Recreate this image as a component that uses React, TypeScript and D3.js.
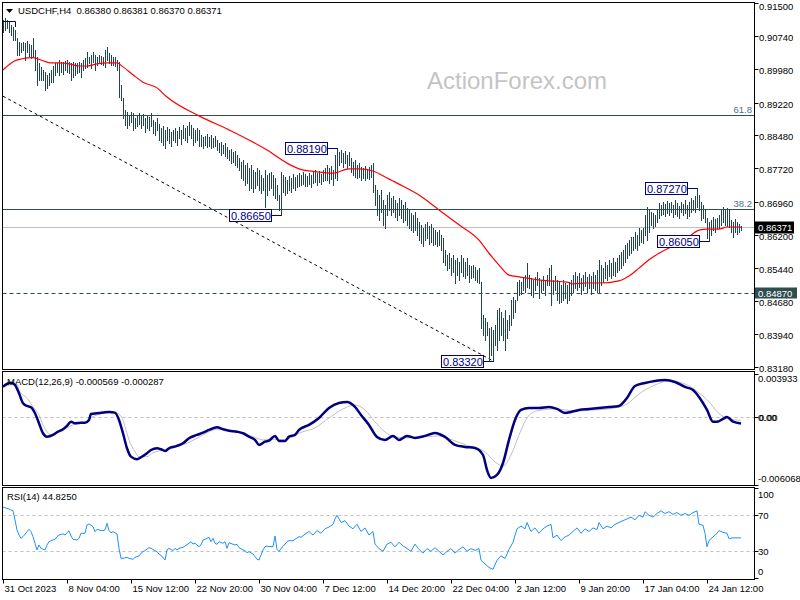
import React from "react";
import * as d3 from "d3";

// ---------- DATA ----------
const HIGH = [
  .9111,.9116,.9111,.9107,.9100,.9095,.9088,.9070,.9061,.9059,
  .9061,.9059,.9063,.9056,.9054,.9070,.9043,.9027,.9013,.9004,
  .8997,.8992,.8986,.8990,.8997,.9006,.9013,.9013,.9020,.9015,
  .9015,.9017,.9020,.9015,.9013,.9015,.9013,.9013,.9015,.9013,
  .9020,.9024,.9038,.9027,.9031,.9038,.9031,.9027,.9031,.9029,
  .9027,.9043,.9049,.9036,.9031,.9027,.9027,.9020,.9015,.8963,
  .8933,.8906,.8901,.8894,.8901,.8899,.8887,.8894,.8899,.8892,
  .8897,.8887,.8894,.8890,.8899,.8883,.8878,.8887,.8874,.8865,
  .8869,.8860,.8867,.8862,.8855,.8860,.8865,.8858,.8867,.8860,
  .8871,.8865,.8869,.8878,.8871,.8865,.8860,.8865,.8860,.8848,
  .8843,.8846,.8851,.8843,.8848,.8841,.8846,.8837,.8830,.8832,
  .8825,.8830,.8821,.8814,.8816,.8809,.8812,.8803,.8796,.8787,
  .8791,.8780,.8784,.8773,.8780,.8768,.8764,.8773,.8768,.8757,
  .8750,.8768,.8757,.8762,.8764,.8757,.8750,.8734,.8711,.8764,
  .8757,.8753,.8746,.8755,.8750,.8759,.8753,.8757,.8762,.8757,
  .8764,.8759,.8755,.8762,.8757,.8764,.8768,.8762,.8766,.8759,
  .8768,.8773,.8780,.8773,.8778,.8768,.8803,.8819,.8809,.8814,
  .8807,.8812,.8803,.8809,.8796,.8787,.8791,.8780,.8784,.8775,
  .8773,.8778,.8771,.8775,.8780,.8784,.8734,.8723,.8711,.8723,
  .8700,.8688,.8711,.8718,.8704,.8709,.8700,.8693,.8704,.8700,
  .8688,.8695,.8681,.8677,.8670,.8666,.8672,.8659,.8650,.8643,
  .8636,.8645,.8650,.8641,.8645,.8636,.8631,.8627,.8631,.8620,
  .8613,.8585,.8574,.8578,.8567,.8574,.8563,.8567,.8558,.8574,
  .8567,.8558,.8567,.8551,.8549,.8551,.8547,.8540,.8544,.8512,
  .8437,.8430,.8421,.8407,.8410,.8403,.8414,.8448,.8453,.8444,
  .8430,.8448,.8426,.8437,.8471,.8478,.8471,.8512,.8517,.8512,
  .8521,.8528,.8556,.8528,.8521,.8517,.8524,.8535,.8521,.8517,
  .8526,.8517,.8528,.8544,.8551,.8517,.8526,.8517,.8512,.8505,
  .8517,.8510,.8505,.8512,.8517,.8528,.8535,.8526,.8533,.8521,
  .8528,.8535,.8524,.8531,.8526,.8535,.8528,.8540,.8563,.8551,
  .8544,.8558,.8551,.8563,.8556,.8567,.8558,.8567,.8574,.8581,
  .8585,.8597,.8601,.8608,.8615,.8615,.8627,.8620,.8636,.8631,
  .8636,.8666,.8684,.8677,.8672,.8670,.8666,.8677,.8693,.8688,
  .8695,.8690,.8697,.8693,.8695,.8688,.8700,.8693,.8686,.8695,
  .8690,.8700,.8688,.8695,.8704,.8700,.8709,.8727,.8711,.8695,
  .8688,.8677,.8659,.8650,.8654,.8661,.8656,.8659,.8666,.8677,
  .8684,.8677,.8681,.8677,.8654,.8650,.8656,.8650,.8645,.8641
];
const LOW = [
  .9084,.9088,.9093,.9084,.9077,.9066,.9066,.9031,.9031,.9038,
  .9043,.9020,.9038,.9029,.9024,.9027,.8997,.8963,.8974,.8974,
  .8974,.8951,.8956,.8963,.8969,.8969,.8986,.8992,.8986,.8992,
  .8988,.8997,.8992,.8990,.8974,.8981,.8986,.8990,.8992,.8981,
  .8997,.9002,.9004,.9013,.9002,.9015,.8997,.9008,.9015,.9011,
  .9008,.9004,.9020,.9013,.9008,.9008,.9006,.8997,.8935,.8928,
  .8888,.8871,.8865,.8871,.8878,.8860,.8865,.8869,.8874,.8865,
  .8871,.8855,.8865,.8860,.8869,.8853,.8848,.8860,.8837,.8832,
  .8825,.8818,.8837,.8830,.8823,.8837,.8832,.8825,.8842,.8828,
  .8842,.8837,.8832,.8848,.8842,.8825,.8832,.8837,.8823,.8823,
  .8818,.8825,.8821,.8823,.8818,.8821,.8823,.8814,.8809,.8803,
  .8807,.8800,.8796,.8791,.8784,.8787,.8780,.8775,.8768,.8750,
  .8746,.8734,.8739,.8723,.8727,.8718,.8727,.8734,.8723,.8716,
  .8723,.8684,.8711,.8723,.8727,.8711,.8704,.8700,.8677,.8665,
  .8718,.8711,.8716,.8723,.8718,.8727,.8723,.8730,.8732,.8734,
  .8737,.8732,.8732,.8737,.8730,.8739,.8741,.8734,.8741,.8737,
  .8743,.8746,.8746,.8739,.8748,.8734,.8750,.8746,.8780,.8787,
  .8775,.8784,.8773,.8780,.8764,.8757,.8753,.8750,.8752,.8746,
  .8750,.8746,.8750,.8748,.8753,.8718,.8688,.8666,.8654,.8672,
  .8643,.8636,.8666,.8677,.8666,.8672,.8661,.8654,.8666,.8659,
  .8650,.8654,.8643,.8636,.8631,.8627,.8631,.8620,.8608,.8602,
  .8595,.8608,.8613,.8599,.8604,.8597,.8599,.8595,.8597,.8585,
  .8558,.8551,.8540,.8544,.8528,.8535,.8510,.8528,.8517,.8535,
  .8526,.8521,.8528,.8512,.8521,.8524,.8517,.8512,.8510,.8407,
  .8391,.8380,.8391,.8334,.8345,.8332,.8368,.8357,.8380,.8391,
  .8380,.8357,.8384,.8403,.8414,.8430,.8444,.8471,.8483,.8485,
  .8494,.8489,.8501,.8499,.8483,.8478,.8494,.8505,.8476,.8489,
  .8494,.8483,.8505,.8505,.8460,.8485,.8494,.8471,.8464,.8467,
  .8471,.8476,.8464,.8471,.8483,.8489,.8499,.8494,.8501,.8485,
  .8494,.8503,.8489,.8499,.8485,.8499,.8494,.8489,.8487,.8505,
  .8512,.8521,.8517,.8526,.8521,.8528,.8526,.8535,.8540,.8544,
  .8551,.8558,.8567,.8574,.8578,.8585,.8590,.8585,.8597,.8604,
  .8601,.8620,.8608,.8627,.8643,.8636,.8641,.8650,.8659,.8666,
  .8668,.8663,.8670,.8666,.8672,.8661,.8668,.8663,.8659,.8672,
  .8666,.8670,.8659,.8663,.8672,.8677,.8672,.8684,.8677,.8654,
  .8659,.8650,.8613,.8605,.8620,.8631,.8627,.8636,.8636,.8643,
  .8650,.8643,.8641,.8638,.8627,.8615,.8627,.8622,.8627,.8631
];

const MA_IDX = [0,6,9,15,20,24,28,33,38,42,47,52,57,60,65,70,77,82,98,113,123,132,142,148,157,165,173,178,185,192,198,208,218,228,238,243,248,253,258,265,273,282,285,292,298,308,313,318,323,328,333,340,348,352,358,362,369];
const MA_VAL = [.8997,.9018,.9022,.9025,.9018,.9013,.9013,.9011,.9006,.9006,.9011,.9013,.9013,.9004,.8986,.8969,.8956,.8935,.8892,.8860,.8837,.8814,.8784,.8771,.8764,.8761,.8771,.8771,.8766,.8750,.8736,.8711,.8677,.8643,.8608,.8578,.8551,.8528,.8524,.8519,.8515,.8512,.8508,.8510,.8510,.8515,.8526,.8544,.8563,.8578,.8590,.8604,.8631,.8633,.8633,.8638,.8638];

const MACD_IDX = [0,2,4,6,8,10,12,14,16,18,20,22,25,27,30,32,34,36,39,41,43,44,47,50,53,56,58,60,62,64,67,69,72,74,77,79,81,83,87,90,93,97,100,103,107,110,113,117,120,123,126,128,131,133,136,138,141,143,146,148,153,158,163,168,172,176,179,183,187,191,195,198,202,206,211,216,221,226,231,236,240,242,244,247,250,253,256,259,263,268,273,277,281,284,288,293,298,303,308,312,316,321,326,331,336,341,345,348,352,355,357,360,362,365,369];
const MACD_VAL = [.00275,.00299,.00311,.00290,.00215,.00125,.00101,.00089,.00035,-.00055,-.00145,-.00176,-.00160,-.00136,-.00109,-.00079,-.00041,-.00055,-.00050,-.00050,-.00025,.00029,.00035,.00041,.00047,.00041,-.00025,-.00145,-.00280,-.00356,-.00379,-.00361,-.00325,-.00296,-.00280,-.00289,-.00305,-.00280,-.00259,-.00235,-.00190,-.00160,-.00140,-.00115,-.00091,-.00109,-.00122,-.00131,-.00145,-.00176,-.00205,-.00250,-.00221,-.00212,-.00169,-.00214,-.00214,-.00176,-.00160,-.00115,-.00070,-.00007,.00083,.00128,.00137,.00092,.00020,-.00070,-.00178,-.00205,-.00169,-.00205,-.00169,-.00187,-.00169,-.00142,-.00178,-.00250,-.00268,-.00278,-.00341,-.00476,-.00548,-.00521,-.00413,-.00205,-.00025,.00065,.00083,.00083,.00092,.00074,.00038,.00047,.00065,.00074,.00083,.00092,.00101,.00173,.00281,.00308,.00326,.00335,.00317,.00272,.00245,.00182,.00065,-.00041,-.00041,-.00016,.00002,-.00041,-.000569];

const SIG_IDX = [0,4,7,8,12,15,18,20,24,26,30,33,36,40,45,48,53,57,60,61,63,66,68,72,75,78,82,87,92,97,102,107,112,118,125,130,135,140,145,148,156,163,171,176,181,186,191,196,203,211,218,226,233,241,246,250,254,258,262,267,276,286,296,306,312,318,326,333,341,348,353,357,360,363,369];
const SIG_VAL = [.00280,.00290,.00299,.00245,.00170,.00095,.00020,-.00070,-.00160,-.00140,-.00115,-.00086,-.00064,-.00055,.00005,.00026,.00041,.00035,-.00025,-.00086,-.00205,-.00311,-.00356,-.00356,-.00320,-.00305,-.00296,-.00266,-.00235,-.00190,-.00140,-.00109,-.00115,-.00131,-.00176,-.00205,-.00199,-.00205,-.00176,-.00145,-.00097,-.00007,.00083,.00110,.00065,-.00043,-.00133,-.00178,-.00187,-.00178,-.00169,-.00214,-.00259,-.00313,-.00403,-.00440,-.00341,-.00160,-.00007,.00056,.00074,.00056,.00065,.00083,.00119,.00209,.00290,.00326,.00299,.00218,.00140,.00050,.00005,-.00016,-.000287];

const RSI_IDX = [0,2,4,5,6,7,8,9,10,12,13,14,15,16,17,18,19,21,22,23,25,26,27,28,30,31,32,33,34,35,37,38,39,41,42,43,45,46,47,48,50,51,52,53,54,55,57,58,59,60,62,63,65,66,68,69,70,71,73,74,76,77,78,80,81,82,83,85,86,87,88,90,91,93,94,95,96,98,99,100,101,103,104,105,106,107,108,110,111,112,113,115,116,117,118,120,121,122,123,125,126,127,128,130,131,132,133,135,136,137,138,139,140,142,143,145,146,148,149,151,153,155,157,159,161,163,165,166,167,169,171,173,175,177,179,181,183,185,186,188,190,192,194,196,198,200,202,204,206,208,210,212,214,216,218,220,222,224,226,228,230,232,234,236,238,239,241,243,245,247,249,251,253,255,257,259,261,262,264,266,268,270,272,274,275,277,279,281,283,285,287,289,291,293,295,297,298,300,302,304,306,308,310,312,314,316,318,320,321,323,325,327,329,331,333,335,337,339,341,343,345,347,348,350,351,352,353,355,357,358,360,362,363,365,369];
const RSI_VAL = [78.9,77.8,75.9,75.1,64.8,53.7,48.1,44.4,46.3,51.8,54.4,51.8,46.3,38.9,31.5,37,33.3,31.5,37,40.7,42.6,43.3,46.3,48.1,49.3,48.1,50.7,52.9,47,43.3,42.6,44.4,50,50,59.3,60.4,57.4,51.8,54.4,53.7,52.9,53.7,61.1,52.9,50.7,51.8,49.3,33.3,22.2,22.2,23.3,22.2,21.1,23.3,24.8,27.8,29.6,30.7,34.1,33.3,30.7,29.6,27,23.3,20.4,31.5,33.3,30.7,33.3,31.5,33.3,34.4,35.9,38.9,40.7,38.1,38.9,35.2,37,42.6,43.3,45.6,40.7,44.4,38.9,37.8,40.7,38.9,40.7,33.3,39.6,37.8,37,37.8,34.1,31.5,30.7,28.5,29.6,27,24.1,21.1,20.4,31.5,35.2,35.9,35.2,35.2,47,32.2,29.6,33.3,35.2,40.7,41.8,41.8,43.3,46.3,45.6,49,52,48,53,50,55,57,60,66,70,62,64,58,55,60,52,56,48,52,38,33,30,38,40,35,40,36,33,30,38,32,28,33,30,34,30,26,30,33,28,32,35,30,33,31,33,20,16,12,10,20,25,22,32,40,55,58,55,62,52,56,50,55,58,60,45,48,42,46,48,52,56,50,55,52,56,54,62,55,58,56,60,62,64,66,68,65,70,68,74,70,68,72,75,72,74,71,73,70,72,70,73,75,60,59,50,35,42,46,50,53,51,50,44,45,44.825];

const PRICE_TICKS = [0.915, 0.9074, 0.8998, 0.8922, 0.8848, 0.8772, 0.8696, 0.862, 0.8544, 0.8468, 0.8394, 0.8318];
const MACD_TICKS = [0.003933, 0, -0.006068];
const MACD_TICK_LABELS = ["0.003933", "0.00", "-0.006068"];
const RSI_TICKS = [100, 70, 30, 0];
const RSI_LEVELS = [70, 30];
const DATE_IDX = [0, 32, 64, 96, 128, 160, 192, 224, 256, 288, 320, 352];
const DATE_LABELS = ["31 Oct 2023", "8 Nov 04:00", "15 Nov 12:00", "22 Nov 20:00", "30 Nov 04:00", "7 Dec 12:00", "14 Dec 20:00", "22 Dec 04:00", "2 Jan 12:00", "9 Jan 20:00", "17 Jan 04:00", "24 Jan 12:00"];
const ANNOT_IDX = [167, 139, 245, 347, 353];
const ANNOT_PRICE = [0.8819, 0.8665, 0.8332, 0.8727, 0.8605];
const FIB_PRICE = [0.8894, 0.8679];
const FIB_LABELS = ["61.8", "38.2"];
const SUPPORT = 0.8487;
const LAST_PRICE = 0.86371;
const HEADER_OHLC = [0.8638, 0.86381, 0.8637, 0.86371];
const MACD_LAST = [-0.000569, -0.000287];
const RSI_LAST = 44.825;
const TREND_IDX = [0, 245];
const TREND_PRICE = [0.8937, 0.8332];

// ---------- LAYOUT ----------
const L = 2.5, R = 754.5;
const MAIN = { top: 2.5, bottom: 369.5 };
const MACDP = { top: 371.5, bottom: 485.5 };
const RSIP = { top: 487.5, bottom: 579.5 };
const FONT = "'Liberation Sans', Arial, sans-serif";
const BAR_COLOR = "#1f4459";
const SLATE = "#2F4F4F";

export default function App() {
  const x = d3.scaleLinear().domain([0, HIGH.length - 1]).range([3, 741]);
  const y = d3.scaleLinear().domain([0.8318, 0.915]).range([367, 3]);
  const ym = d3.scaleLinear().domain([-0.006068, 0.003933]).range([484.5, 373.5]);
  const yr = d3.scaleLinear().domain([0, 100]).range([578.3, 488.3]);
  const px = (i: number) => Math.round(x(i)) + 0.5;
  const f5 = d3.format(".5f");

  const maLine = d3.line<number>().x((d, k) => x(MA_IDX[k])).y(d => y(d)).curve(d3.curveMonotoneX)(MA_VAL) || "";
  const macdLine = d3.line<number>().x((d, k) => x(MACD_IDX[k])).y(d => ym(d)).curve(d3.curveMonotoneX)(MACD_VAL) || "";
  const sigLine = d3.line<number>().x((d, k) => x(SIG_IDX[k])).y(d => ym(d)).curve(d3.curveMonotoneX)(SIG_VAL) || "";
  const rsiLine = d3.line<number>().x((d, k) => x(RSI_IDX[k])).y(d => yr(d))(RSI_VAL) || "";

  const yLast = y(LAST_PRICE);
  const ySup = y(SUPPORT);

  return (
    <svg width={800} height={600} style={{ position: "fixed", left: 0, top: 0, background: "#fff" }} fontFamily={FONT}>
      <defs>
        <clipPath id="cMain"><rect x={L} y={MAIN.top} width={R - L} height={MAIN.bottom - MAIN.top} /></clipPath>
        <clipPath id="cMacd"><rect x={L} y={MACDP.top} width={R - L} height={MACDP.bottom - MACDP.top} /></clipPath>
        <clipPath id="cRsi"><rect x={L} y={RSIP.top} width={R - L} height={RSIP.bottom - RSIP.top} /></clipPath>
      </defs>
      <rect x={0} y={0} width={800} height={600} fill="#fff" />

      {/* watermark */}
      <text x={427} y={89} fontSize={24} fill="#c4c4c4" fontFamily={FONT}>ActionForex.com</text>

      {/* MAIN PANEL */}
      <g clipPath="url(#cMain)">
        <line x1={L} x2={R} y1={Math.round(yLast) + 0.5} y2={Math.round(yLast) + 0.5} stroke="#c0c0c0" />
        <line x1={x(TREND_IDX[0])} y1={y(TREND_PRICE[0])} x2={x(TREND_IDX[1])} y2={y(TREND_PRICE[1])} stroke="#000" strokeWidth={1} strokeDasharray="3,3" />
        {HIGH.map((h, i) => (
          <line key={i} x1={px(i)} x2={px(i)} y1={Math.round(y(h))} y2={Math.round(y(LOW[i])) + 1} stroke={BAR_COLOR} strokeWidth={1} />
        ))}
        {FIB_PRICE.map((p, k) => (
          <g key={k}>
            <line x1={L} x2={R} y1={Math.round(y(p)) + 0.5} y2={Math.round(y(p)) + 0.5} stroke={SLATE} />
            <text x={752} y={Math.round(y(p)) - 2} textAnchor="end" fontSize={9.5} fill="#4d7090">{FIB_LABELS[k]}</text>
          </g>
        ))}
        <line x1={L} x2={R} y1={Math.round(ySup) + 0.5} y2={Math.round(ySup) + 0.5} stroke={SLATE} strokeDasharray="4,3" />
        <path d={maLine} fill="none" stroke="#ff0000" strokeWidth={1.2} />
        <path d="M2,21.5 H15.5 V27" fill="none" stroke="#000080" />
        {ANNOT_IDX.map((idx, k) => {
          const bx = px(idx);
          const by = Math.round(y(ANNOT_PRICE[k])) + 0.5;
          const right = bx - 10;
          return (
            <g key={k}>
              <line x1={right} x2={bx} y1={by} y2={by} stroke="#000080" />
              <rect x={right - 42} y={by - 6} width={42} height={12} fill="#fff" stroke="#000080" />
              <text x={right - 40.5} y={by + 4} fontSize={11} fill="#000080">{f5(ANNOT_PRICE[k])}</text>
            </g>
          );
        })}
      </g>
      {/* header */}
      <path d="M6,9 L13,9 L9.5,13 Z" fill="#000" />
      <text x={18} y={14} fontSize={9.5} fill="#000" style={{ whiteSpace: "pre" }}>
        {"USDCHF,H4  " + HEADER_OHLC.map(f5).join(" ")}
      </text>

      {/* MACD PANEL */}
      <g clipPath="url(#cMacd)">
        <line x1={L} x2={R} y1={Math.round(ym(0)) + 0.5} y2={Math.round(ym(0)) + 0.5} stroke="#c0c0c0" strokeDasharray="3,3" />
        <path d={sigLine} fill="none" stroke="#c0c0c0" strokeWidth={1} />
        <path d={macdLine} fill="none" stroke="#000080" strokeWidth={2.5} />
      </g>
      <text x={7} y={385} fontSize={9.5} fill="#000">
        {"MACD(12,26,9) " + MACD_LAST.map(v => v.toFixed(6)).join(" ")}
      </text>

      {/* RSI PANEL */}
      <g clipPath="url(#cRsi)">
        {RSI_LEVELS.map(l => (
          <line key={l} x1={L} x2={R} y1={Math.round(yr(l)) + 0.5} y2={Math.round(yr(l)) + 0.5} stroke="#c0c0c0" strokeDasharray="3,3" />
        ))}
        <path d={rsiLine} fill="none" stroke="#1E90FF" strokeWidth={1} />
      </g>
      <text x={7} y={500} fontSize={9.5} fill="#000">{"RSI(14) " + RSI_LAST.toFixed(4)}</text>

      {/* panel borders */}
      {[MAIN, MACDP, RSIP].map((p, k) => (
        <rect key={k} x={L} y={p.top} width={R - L} height={p.bottom - p.top} fill="none" stroke="#000" />
      ))}

      {/* right axis: main */}
      {PRICE_TICKS.map((t, k) => {
        const ty = Math.round(y(t)) + 0.5;
        return (
          <g key={k}>
            <line x1={R} x2={R + 4} y1={ty} y2={ty} stroke="#000" />
            <text x={759} y={Math.max(ty + 4, 9.5)} fontSize={9.5} fill="#000">{f5(t)}</text>
          </g>
        );
      })}
      <rect x={755} y={Math.round(yLast) - 5.5} width={39} height={12} fill="#000" />
      <text x={758} y={Math.round(yLast) + 4} fontSize={9.5} fill="#fff">{f5(LAST_PRICE)}</text>
      <rect x={755} y={Math.round(ySup) - 5.5} width={42} height={11} fill={SLATE} />
      <text x={758} y={Math.round(ySup) + 4} fontSize={9.5} fill="#fff">{f5(SUPPORT)}</text>

      {/* right axis: MACD */}
      {MACD_TICKS.map((t, k) => {
        const ty = ym(t);
        const by = k === 0 ? 382 : k === 2 ? 482 : ty + 3.5;
        return (
          <g key={k}>
            <line x1={R} x2={R + 4} y1={Math.round(ty) + 0.5} y2={Math.round(ty) + 0.5} stroke="#000" />
            <text x={758} y={by} fontSize={9.5} fill="#000">{MACD_TICK_LABELS[k]}</text>
            {k === 1 && <text x={759} y={by} fontSize={9.5} fill="#000">{MACD_TICK_LABELS[k]}</text>}
          </g>
        );
      })}

      {/* right axis: RSI */}
      {RSI_TICKS.map((t, k) => {
        const ty = yr(t);
        const by = t === 100 ? 498 : t === 0 ? 574.5 : ty + 3.5;
        return (
          <g key={k}>
            <line x1={R} x2={R + 4} y1={Math.round(ty) + 0.5} y2={Math.round(ty) + 0.5} stroke="#000" />
            <text x={758} y={by} fontSize={9.5} fill="#000">{t}</text>
          </g>
        );
      })}

      {/* bottom axis */}
      {DATE_IDX.map((idx, k) => (
        <g key={k}>
          <line x1={px(idx)} x2={px(idx)} y1={RSIP.bottom} y2={RSIP.bottom + 4} stroke="#000" />
          <text x={px(idx) + 1} y={592} fontSize={9.5} fill="#000">{DATE_LABELS[k]}</text>
        </g>
      ))}
    </svg>
  );
}
